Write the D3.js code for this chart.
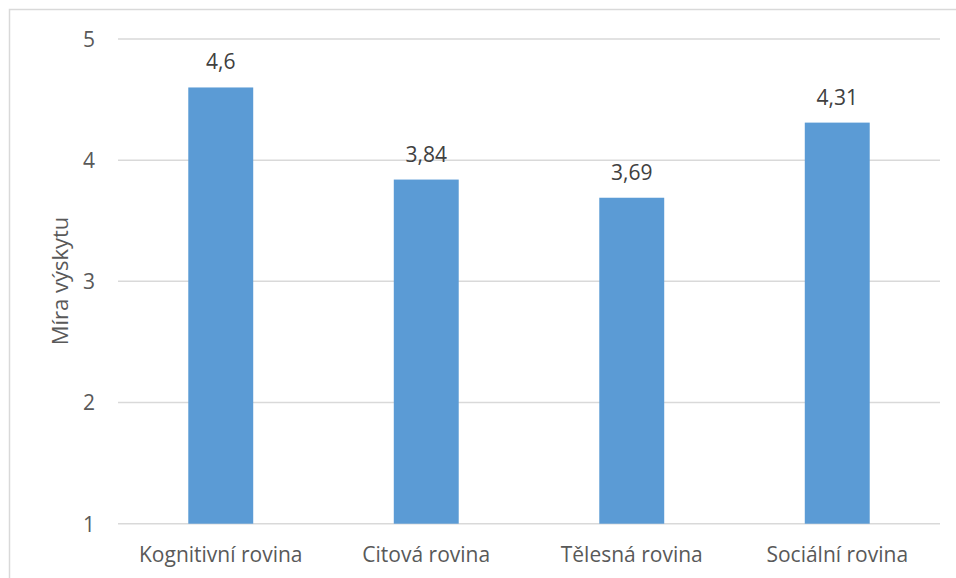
<!DOCTYPE html>
<html>
<head>
<meta charset="utf-8">
<script src="https://cdn.jsdelivr.net/npm/d3@7"></script>
<style>
  html, body { margin: 0; padding: 0; background: #fff; }
  svg { display: block; font-family: "Open Sans", "Noto Sans", sans-serif; }
</style>
</head>
<body>
<svg id="chart" width="956" height="578"></svg>
<script>
const categories = ["Kognitivní rovina", "Citová rovina", "Tělesná rovina", "Sociální rovina"];
const values = [4.6, 3.84, 3.69, 4.31];
const valueLabels = ["4,6", "3,84", "3,69", "4,31"];
const yTicks = [1, 2, 3, 4, 5];
const yTitle = "Míra výskytu";

const svg = d3.select("#chart");
const plot = { left: 118, right: 940, top: 39, bottom: 523.7 };
const textColor = "#595959";
const gridColor = "#d9d9d9";
const fontFamily = "\"Open Sans\", \"Noto Sans\", sans-serif";

// outer frame of the chart area
svg.append("rect")
  .attr("x", 9.5).attr("y", 9.5)
  .attr("width", 970).attr("height", 620)
  .attr("fill", "#fff")
  .attr("stroke", gridColor).attr("stroke-width", 1.5);

const x = d3.scaleBand().domain(categories).range([plot.left, plot.right]).padding(0);
const y = d3.scaleLinear().domain([1, 5]).range([plot.bottom, plot.top]);
const barW = x.bandwidth() * 0.316;

// horizontal gridlines
svg.append("g").selectAll("line").data(yTicks).join("line")
  .attr("x1", plot.left).attr("x2", plot.right)
  .attr("y1", d => y(d)).attr("y2", d => y(d))
  .attr("stroke", gridColor).attr("stroke-width", 1.5);

// y axis tick labels
const yAxis = d3.axisLeft(y).tickValues(yTicks).tickSize(0).tickPadding(0).tickFormat(d3.format("d"));
const gy = svg.append("g").attr("transform", `translate(${plot.left - 23},0)`).call(yAxis);
gy.select(".domain").remove();
gy.attr("font-size", null).attr("font-family", null);
gy.selectAll("text").attr("fill", textColor).attr("dy", "0.35em")
  .style("font-size", "21px").style("font-family", fontFamily);

// bars
svg.append("g").selectAll("rect").data(values).join("rect")
  .attr("x", (d, i) => x(categories[i]) + x.bandwidth() / 2 - barW / 2)
  .attr("width", barW)
  .attr("y", d => y(d))
  .attr("height", d => y(1) - y(d))
  .attr("fill", "#5B9BD5");

// value labels above the bars
svg.append("g").selectAll("text").data(values).join("text")
  .attr("x", (d, i) => x(categories[i]) + x.bandwidth() / 2)
  .attr("y", d => y(d) - 18)
  .attr("text-anchor", "middle")
  .attr("fill", "#404040")
  .style("font-size", "21px").style("font-family", fontFamily)
  .text((d, i) => valueLabels[i]);

// x axis category labels
const xAxis = d3.axisBottom(x).tickSize(0).tickPadding(0);
const gx = svg.append("g").attr("transform", `translate(0,${plot.bottom})`).call(xAxis);
gx.select(".domain").remove();
gx.attr("font-size", null).attr("font-family", null);
gx.selectAll("text").attr("fill", textColor).attr("dy", null).attr("y", 38)
  .style("font-size", "21px").style("font-family", fontFamily);

// y axis title
svg.append("text")
  .attr("transform", `translate(68,281) rotate(-90)`)
  .attr("text-anchor", "middle")
  .attr("fill", textColor)
  .style("font-size", "22px").style("font-family", fontFamily)
  .text(yTitle);
</script>
</body>
</html>
